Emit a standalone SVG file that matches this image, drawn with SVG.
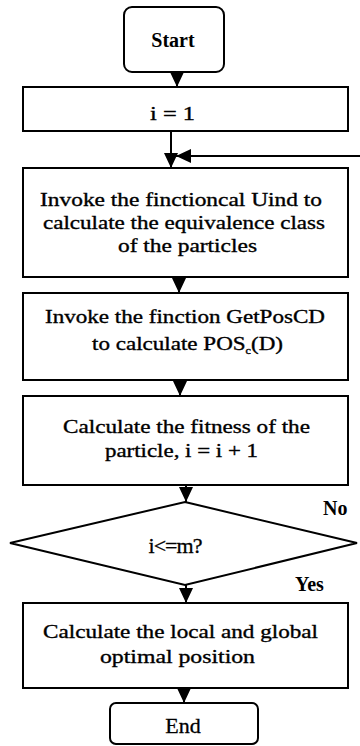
<svg xmlns="http://www.w3.org/2000/svg" width="360" height="746" viewBox="0 0 360 746">
<style>
.box{fill:#fff;stroke:#000;stroke-width:2}
.t{font-family:"Liberation Serif","Times New Roman",serif;font-size:19px;text-anchor:middle;fill:#000;stroke:#000;stroke-width:0.35}
.tb{font-family:"Liberation Serif","Times New Roman",serif;font-weight:bold;font-size:20px;fill:#000}
.tr{font-family:"Liberation Serif","Times New Roman",serif;font-size:22px;text-anchor:middle;fill:#000;stroke:#000;stroke-width:0.3}
.c{stroke:#000;stroke-width:2;fill:none}
</style>
<defs>
<marker id="ah" markerUnits="userSpaceOnUse" markerWidth="15" markerHeight="14" viewBox="0 0 15 14" refX="15" refY="7" orient="auto">
<path d="M0,0 L15,7 L0,14 z" fill="#000"/>
</marker>
</defs>
<rect width="360" height="746" fill="#fff"/>
<g id="connectors">
<line class="c" x1="177" y1="72" x2="177" y2="87" marker-end="url(#ah)"/>
<line class="c" x1="171" y1="131" x2="171" y2="168" stroke-width="3" marker-end="url(#ah)"/>
<line class="c" x1="360" y1="156" x2="176" y2="156" marker-end="url(#ah)"/>
<line class="c" x1="179" y1="277" x2="179" y2="293" marker-end="url(#ah)"/>
<line class="c" x1="180" y1="380" x2="180" y2="396" marker-end="url(#ah)"/>
<line class="c" x1="186" y1="485" x2="186" y2="502" marker-end="url(#ah)"/>
<line class="c" x1="186" y1="585" x2="186" y2="603" marker-end="url(#ah)"/>
<line class="c" x1="184" y1="688" x2="184" y2="703" marker-end="url(#ah)"/>
</g>
<g id="start">
<rect class="box" x="124" y="7" width="100" height="65" rx="8"/>
<text class="tb" x="173" y="47" text-anchor="middle">Start</text>
</g>
<g id="init">
<rect class="box" x="23" y="87" width="325" height="44"/>
<text class="t" x="172.5" y="120" textLength="45" lengthAdjust="spacingAndGlyphs">i = 1</text>
</g>
<g id="uind">
<rect class="box" x="23" y="168" width="325" height="109"/>
<text class="t" x="181" y="206" textLength="282" lengthAdjust="spacingAndGlyphs">Invoke the finctioncal Uind to</text>
<text class="t" x="184" y="229" textLength="282" lengthAdjust="spacingAndGlyphs">calculate the equivalence class</text>
<text class="t" x="187.5" y="252" textLength="139" lengthAdjust="spacingAndGlyphs">of the particles</text>
</g>
<g id="getpos">
<rect class="box" x="23" y="293" width="325" height="87"/>
<text class="t" x="185" y="323" textLength="280" lengthAdjust="spacingAndGlyphs">Invoke the finction GetPosCD</text>
<text class="t" x="187.5" y="350" textLength="191" lengthAdjust="spacingAndGlyphs">to calculate POS<tspan font-size="10" dy="4">c</tspan><tspan dy="-4">(D)</tspan></text>
</g>
<g id="fitness">
<rect class="box" x="23" y="396" width="325" height="89"/>
<text class="t" x="186.5" y="433" textLength="247" lengthAdjust="spacingAndGlyphs">Calculate the fitness of the</text>
<text class="t" x="181.5" y="457" textLength="153" lengthAdjust="spacingAndGlyphs">particle, i = i + 1</text>
</g>
<g id="decision">
<polygon class="box" points="185,502 357,543 185,585 10,543"/>
<text class="tr" x="175" y="553" font-size="18" letter-spacing="-1">i&lt;=m?</text>
<text class="tb" x="323" y="515">No</text>
<text class="tb" x="295" y="591" font-size="19">Yes</text>
</g>
<g id="optimal">
<rect class="box" x="23" y="603" width="325" height="85"/>
<text class="t" x="180.5" y="638" textLength="275" lengthAdjust="spacingAndGlyphs">Calculate the local and global</text>
<text class="t" x="177.5" y="663" textLength="155" lengthAdjust="spacingAndGlyphs">optimal position</text>
</g>
<g id="end">
<rect class="box" x="110" y="703" width="148" height="41" rx="6"/>
<text class="tr" x="183" y="733">End</text>
</g>
</svg>
